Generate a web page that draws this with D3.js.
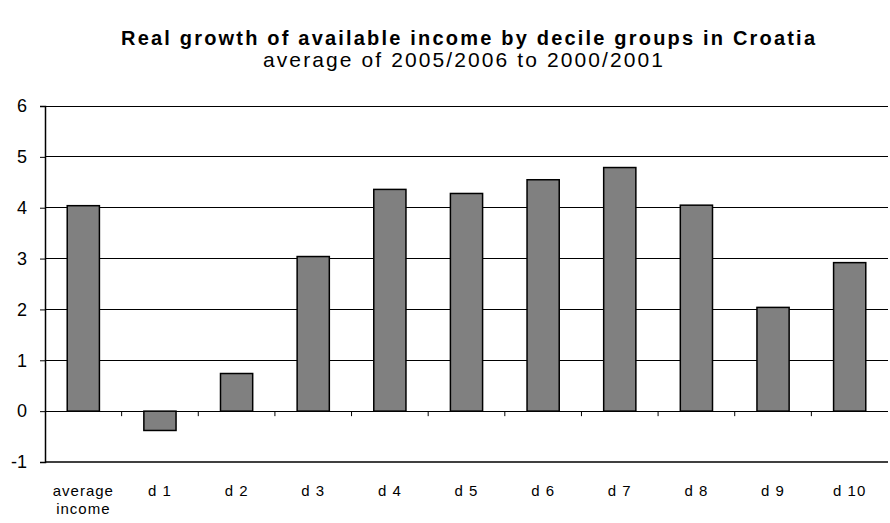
<!DOCTYPE html>
<html><head><meta charset="utf-8">
<script src="https://cdn.jsdelivr.net/npm/d3@7"></script>
<style>body{margin:0;background:#fff}svg{display:block}</style>
</head><body>
<svg id="c" width="890" height="523"></svg>
<script>
const categories = ["average income","d 1","d 2","d 3","d 4","d 5","d 6","d 7","d 8","d 9","d 10"];
const values = [4.04,-0.38,0.74,3.04,4.36,4.28,4.55,4.79,4.05,2.04,2.92];
const yTicks = [-1,0,1,2,3,4,5,6];
const title = "Real growth of available income by decile groups in Croatia";
const subtitle = "average of 2005/2006 to 2000/2001";

const svg = d3.select("#c");
const font = "'Liberation Sans', Arial, sans-serif";
const L = 45, R = 888, T = 106, B = 462;
const x = d3.scaleBand().domain(categories).range([L, R]).padding(0);
const y = d3.scaleLinear().domain([-1, 6]).range([B, T]);

svg.append("text").attr("x", 468).attr("y", 45).attr("text-anchor","middle")
  .attr("font-family", font).attr("font-weight","bold").attr("font-size", 20)
  .attr("textLength", 694).attr("lengthAdjust","spacing").text(title);
svg.append("text").attr("x", 463).attr("y", 67).attr("text-anchor","middle")
  .attr("font-family", font).attr("font-size", 21)
  .attr("textLength", 400).attr("lengthAdjust","spacing").text(subtitle);

// gridlines
svg.append("g").selectAll("line").data(yTicks.filter(d => d > -1)).join("line")
  .attr("x1", L).attr("x2", R).attr("y1", d => y(d)).attr("y2", d => y(d))
  .attr("stroke", "#000").attr("stroke-width", 1).attr("shape-rendering","crispEdges");
// bottom border
svg.append("line").attr("x1", L).attr("x2", R).attr("y1", y(-1)).attr("y2", y(-1))
  .attr("stroke", "#000").attr("stroke-width", 1.5);

// bars
const bw = x.bandwidth() * 0.42;
svg.append("g").selectAll("rect").data(values).join("rect")
  .attr("x", (d, i) => x(categories[i]) + (x.bandwidth() - bw) / 2)
  .attr("width", bw)
  .attr("y", d => y(Math.max(0, d)))
  .attr("height", d => Math.abs(y(d) - y(0)))
  .attr("fill", "#808080").attr("stroke", "#000").attr("stroke-width", 1.5);

// y axis
const yAxis = svg.append("g").attr("transform", `translate(${L},0)`)
  .call(d3.axisLeft(y).tickValues(yTicks).tickSize(5).tickPadding(13).tickFormat(d => String(d)));
yAxis.select(".domain").attr("stroke","#000").attr("stroke-width",1.5);
yAxis.selectAll(".tick line").attr("stroke","#000");
yAxis.selectAll("text").attr("font-family", font).attr("font-size", 18).attr("fill","#000");

// x ticks at zero line between categories
svg.append("g").selectAll("line").data(categories.slice(1)).join("line")
  .attr("x1", d => x(d)).attr("x2", d => x(d)).attr("y1", y(0)).attr("y2", y(0) + 5)
  .attr("stroke", "#000").attr("stroke-width", 1);

// x labels
const xl = svg.append("g").selectAll("text").data(categories).join("text")
  .attr("x", d => x(d) + x.bandwidth() / 2).attr("y", 496)
  .attr("text-anchor","middle").attr("font-family", font).attr("font-size", 15)
  .attr("letter-spacing", 1).attr("fill","#000");
xl.each(function(d) {
  const parts = d.split(" ");
  const t = d3.select(this);
  if (parts.length > 1 && parts[0].length > 2) {
    parts.forEach((p, i) => t.append("tspan").attr("x", x(d) + x.bandwidth() / 2).attr("dy", i ? 18 : 0).text(p));
  } else t.text(d);
});
</script>
</body></html>
